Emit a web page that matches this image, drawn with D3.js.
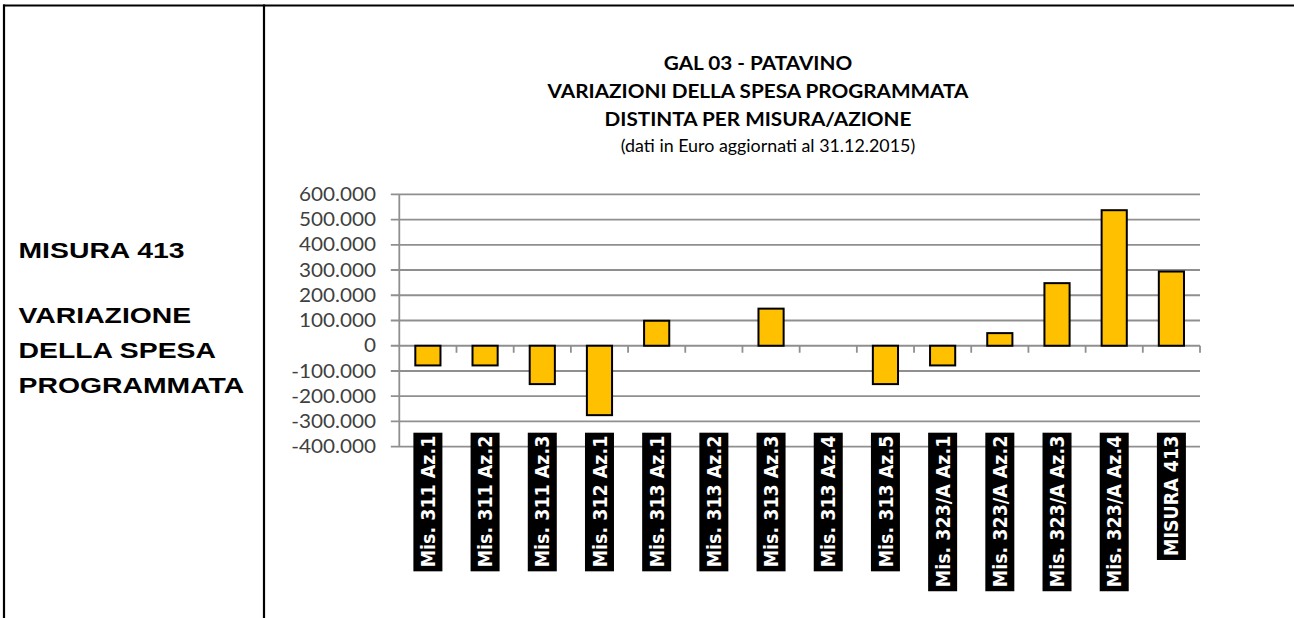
<!DOCTYPE html>
<html>
<head>
<meta charset="utf-8">
<script src="https://cdn.jsdelivr.net/npm/d3@7"></script>
<style>
  html, body { margin: 0; padding: 0; background: #fff; }
  svg { display: block; }
</style>
</head>
<body>
<svg id="chart" width="1294" height="618"></svg>
<script>
const categories = [
  'Mis. 311 Az.1', 'Mis. 311 Az.2', 'Mis. 311 Az.3', 'Mis. 312 Az.1',
  'Mis. 313 Az.1', 'Mis. 313 Az.2', 'Mis. 313 Az.3', 'Mis. 313 Az.4',
  'Mis. 313 Az.5', 'Mis. 323/A Az.1', 'Mis. 323/A Az.2', 'Mis. 323/A Az.3',
  'Mis. 323/A Az.4', 'MISURA 413'
];
const variations = [
  -78000, -78000, -152000, -275000,
  99000, 0, 147000, 0,
  -152000, -78000, 50000, 248000,
  537000, 294000
];
const yTicks = [-400000, -300000, -200000, -100000, 0, 100000, 200000, 300000, 400000, 500000, 600000];
const titleLines = [
  'GAL 03 - PATAVINO',
  'VARIAZIONI DELLA SPESA PROGRAMMATA',
  'DISTINTA PER MISURA/AZIONE'
];
const subtitle = '(dati in Euro aggiornati al 31.12.2015)';
const sideLines = ['MISURA 413', '', 'VARIAZIONE', 'DELLA SPESA', 'PROGRAMMATA'];

(function() {
  const svg = d3.select('#chart');
  const W = 1294, H = 618;

  // stretch text horizontally, the source picture is a bit wide
  function stretch(sel, k) {
    sel.each(function() {
      const len = this.getComputedTextLength();
      d3.select(this).attr('textLength', len * k).attr('lengthAdjust', 'spacingAndGlyphs');
    });
  }

  // table frame
  const frame = svg.append('g').attr('stroke', '#000').attr('stroke-width', 2.2);
  frame.append('line').attr('x1', 3).attr('x2', W).attr('y1', 5.5).attr('y2', 5.5);
  frame.append('line').attr('x1', 4).attr('x2', 4).attr('y1', 4.5).attr('y2', H);
  frame.append('line').attr('x1', 264).attr('x2', 264).attr('y1', 4.5).attr('y2', H);

  // left cell
  const side = svg.append('g')
    .attr('font-family', '"Liberation Sans", Arial, sans-serif')
    .attr('font-weight', 'bold')
    .attr('font-size', 22.5)
    .attr('fill', '#000');
  const sideY = [258, 290, 322.5, 358, 393];
  side.selectAll('text')
    .data(sideLines)
    .enter()
    .append('text')
    .attr('x', 18.5)
    .attr('y', (d, i) => sideY[i])
    .text(d => d)
    .filter(d => d.length > 0)
    .call(stretch, 1.26);

  // chart
  const margin = {left: 399.3, right: 1200, top: 194.3, bottom: 446.7};
  const x = d3.scaleBand()
    .domain(categories)
    .range([margin.left, margin.right])
    .paddingInner(0.56)
    .paddingOuter(0.28);
  const y = d3.scaleLinear()
    .domain([-400000, 600000])
    .range([margin.bottom, margin.top]);

  const locale = d3.formatLocale({decimal: ',', thousands: '.', grouping: [3], currency: ['', ' €'], minus: '-'});
  const fmt = locale.format(',');

  const titleG = svg.append('g')
    .attr('font-family', 'Lato, "Open Sans", sans-serif')
    .attr('fill', '#000')
    .attr('text-anchor', 'middle');
  titleG.selectAll('text.t')
    .data(titleLines)
    .enter()
    .append('text')
    .attr('class', 't')
    .attr('x', 758)
    .attr('y', (d, i) => 70 + i * 28)
    .attr('font-size', 18.5)
    .attr('font-weight', 'bold')
    .text(d => d)
    .call(stretch, 1.12);
  titleG.append('text')
    .attr('x', 768)
    .attr('y', 151.5)
    .attr('font-size', 17)
    .text(subtitle)
    .call(stretch, 1.05);

  // grid lines
  svg.append('g')
    .selectAll('line')
    .data(yTicks)
    .enter()
    .append('line')
    .attr('x1', margin.left - 8.5)
    .attr('x2', margin.right)
    .attr('y1', d => y(d))
    .attr('y2', d => y(d))
    .attr('stroke', '#8f8f8f')
    .attr('stroke-width', 1.8);

  // y axis line
  svg.append('line')
    .attr('x1', margin.left).attr('x2', margin.left)
    .attr('y1', margin.top).attr('y2', margin.bottom)
    .attr('stroke', '#8f8f8f')
    .attr('stroke-width', 1.8);

  // category ticks on the zero line
  const step = x.step();
  svg.append('g')
    .selectAll('line')
    .data(d3.range(1, categories.length + 1))
    .enter()
    .append('line')
    .attr('x1', i => margin.left + i * step)
    .attr('x2', i => margin.left + i * step)
    .attr('y1', y(0))
    .attr('y2', y(0) + 7)
    .attr('stroke', '#8f8f8f')
    .attr('stroke-width', 1.8);

  // y tick labels
  svg.append('g')
    .attr('font-family', 'Lato, "Open Sans", sans-serif')
    .attr('font-size', 18.5)
    .attr('fill', '#404040')
    .attr('text-anchor', 'end')
    .selectAll('text')
    .data(yTicks)
    .enter()
    .append('text')
    .attr('x', 376)
    .attr('y', d => y(d))
    .attr('dy', '0.36em')
    .text(d => fmt(d))
    .call(stretch, 1.12);

  // bars (zero values draw nothing)
  const barData = categories
    .map((c, i) => ({cat: c, value: variations[i]}))
    .filter(d => d.value !== 0);
  svg.append('g')
    .selectAll('rect')
    .data(barData)
    .enter()
    .append('rect')
    .attr('x', d => x(d.cat))
    .attr('y', d => y(Math.max(0, d.value)))
    .attr('width', x.bandwidth())
    .attr('height', d => Math.abs(y(d.value) - y(0)))
    .attr('fill', '#ffc000')
    .attr('stroke', '#000')
    .attr('stroke-width', 2);

  // category labels: white text on black boxes, read bottom to top
  const labelTop = y(-400000) - 14;
  const lab = svg.append('g')
    .selectAll('g')
    .data(categories)
    .enter()
    .append('g')
    .attr('transform', d => 'translate(' + (x(d) + x.bandwidth() / 2) + ',' + labelTop + ')');
  lab.append('rect')
    .attr('fill', '#000');
  const labText = lab.append('text')
    .attr('transform', 'scale(1.12,1) rotate(-90)')
    .attr('x', -3)
    .attr('y', 0)
    .attr('dy', '0.36em')
    .attr('text-anchor', 'end')
    .attr('font-family', '"DejaVu Sans", Verdana, sans-serif')
    .attr('font-weight', 'bold')
    .attr('font-size', 17.5)
    .attr('fill', '#fff')
    .text(d => d);
  labText.each(function() {
    const len = this.getComputedTextLength();
    d3.select(this.parentNode).select('rect')
      .attr('x', -14.5)
      .attr('y', 0)
      .attr('width', 29)
      .attr('height', len + 7);
  });
})();
</script>
</body>
</html>
